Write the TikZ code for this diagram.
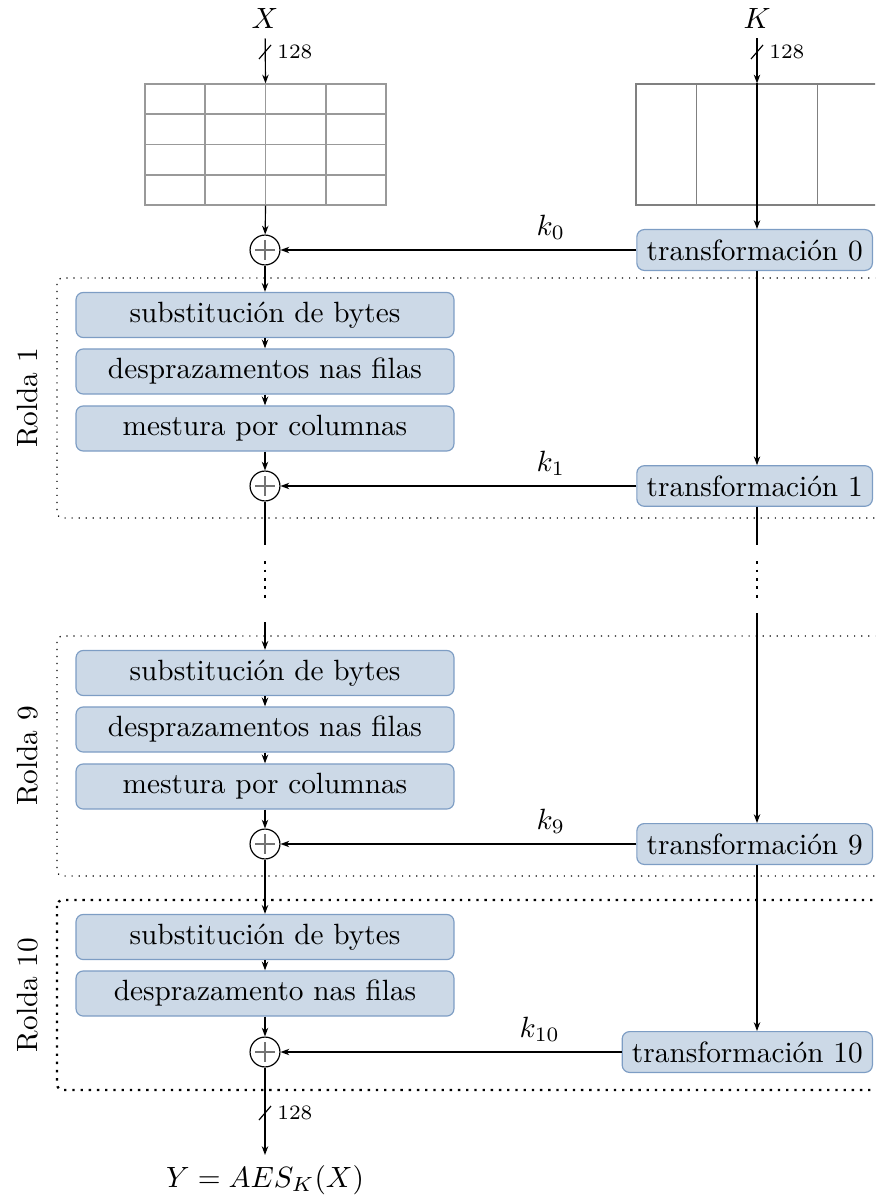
\documentclass[tikz,border=0pt]{standalone}
\usepackage{fontspec}
\usetikzlibrary{arrows.meta,calc}
\definecolor{boxfill}{RGB}{204,217,231}
\definecolor{boxdraw}{RGB}{125,157,196}
\begin{document}
\begin{tikzpicture}[x=0.3413pt,y=-0.3413pt,
  arr/.style={-{Stealth[length=3pt,width=2.2pt]}},
  stepbox/.style={draw=boxdraw,fill=boxfill,rounded corners=2.5pt,minimum width=129pt,minimum height=15.4pt,inner sep=0pt},
  keybox/.style={draw=boxdraw,fill=boxfill,rounded corners=2.5pt,minimum height=13pt,anchor=east},
  xorn/.style={draw,circle,minimum size=10.2pt,inner sep=0pt,
    path picture={\draw[black!55] ([yshift=-1.7pt]path picture bounding box.north) -- ([yshift=1.7pt]path picture bounding box.south);
                  \draw[black!55] ([xshift=1.7pt]path picture bounding box.west) -- ([xshift=-1.7pt]path picture bounding box.east);}},
  roundbox/.style={dotted,rounded corners=2pt},
  gridc/.style={draw=black!40},
  keyc/.style={draw=black!50},
  bits/.style={font=\scriptsize,anchor=west},
  dotsline/.style={line width=0.9pt,dash pattern=on 0.9pt off 2pt},
  rolda/.style={rotate=90}
]
\useasboundingbox (0,0) rectangle (875,1201);
\clip (0,0) rectangle (875,1201);

% round frames
\draw[roundbox] (57,278) rectangle (905,518);
\draw[roundbox] (57,636) rectangle (905,876);
\draw[roundbox,thick] (57,900) rectangle (905,1090);
\node[rolda] (r1) at (28,398) {Rolda 1};
\node[rolda] (r9) at (28,756) {Rolda 9};
\node[rolda] (r10) at (28,995) {Rolda 10};

% inputs
\node (X) at (265,18) {$X$};
\node (K) at (757,18) {$K$};

% state matrix
\node[gridc,minimum width=82.25pt,minimum height=41.3pt,inner sep=0pt] (st) at (265.5,144.5) {};
\foreach \i in {1,2,3} {
  \draw[gridc] ($(st.north west)!\i/4!(st.north east)$) -- ($(st.south west)!\i/4!(st.south east)$);
  \draw[gridc] ($(st.north west)!\i/4!(st.south west)$) -- ($(st.north east)!\i/4!(st.south east)$);
}
% key matrix
\node[keyc,minimum width=82.6pt,minimum height=41.3pt,inner sep=0pt] (km) at (757,144.5) {};
\foreach \i in {1,2,3} {
  \draw[keyc] ($(km.north west)!\i/4!(km.north east)$) -- ($(km.south west)!\i/4!(km.south east)$);
}

% round 0
\node[xorn] (x0) at (265,250) {};
\node[keybox] (t0) at (873,250) {transformación 0};

% round 1
\node[stepbox] (sb1) at (265,315) {substitución de bytes};
\node[stepbox] (dp1) at (265,371.5) {desprazamentos nas filas};
\node[stepbox] (mc1) at (265,428.5) {mestura por columnas};
\node[xorn] (x1) at (265,486) {};
\node[keybox] (t1) at (873,486) {transformación 1};

% round 9
\node[stepbox] (sb9) at (265,673) {substitución de bytes};
\node[stepbox] (dp9) at (265,729.5) {desprazamentos nas filas};
\node[stepbox] (mc9) at (265,786.5) {mestura por columnas};
\node[xorn] (x9) at (265,844) {};
\node[keybox] (t9) at (873,844) {transformación 9};

% round 10
\node[stepbox] (sb10) at (265,937) {substitución de bytes};
\node[stepbox] (dp10) at (265,993.5) {desprazamento nas filas};
\node[xorn] (x10) at (265,1052) {};
\node[keybox] (t10) at (873,1052) {transformación 10};

\node (Y) at (265,1180) {$Y = AES_K(X)$};

% bus slashes
\coordinate (sx) at (265,52);
\coordinate (sk) at (757,52);
\coordinate (sy) at (265,1113);

% left column
\draw[arr] (X) -- (st.north);
\draw[arr] (st.south) -- (x0);
\draw[arr] (x0) -- (sb1);
\draw[arr] (sb1) -- (dp1);
\draw[arr] (dp1) -- (mc1);
\draw[arr] (mc1) -- (x1);
\coordinate (la) at (265,545);
\coordinate (lb) at (265,561);
\coordinate (lc) at (265,598);
\coordinate (ld) at (265,622);
\draw (x1) -- (la);
\draw[dotsline] (lb) -- (lc);
\draw[arr] (ld) -- (sb9);
\draw[arr] (sb9) -- (dp9);
\draw[arr] (dp9) -- (mc9);
\draw[arr] (mc9) -- (x9);
\draw[arr] (x9) -- (sb10);
\draw[arr] (sb10) -- (dp10);
\draw[arr] (dp10) -- (x10);
\draw[arr] (x10) -- (Y);

% right column
\draw[arr] (K) -- (km.north);
\draw[arr] (km.north) -- (t0.north -| km.north);
\coordinate (ra) at (757,545);
\coordinate (rb) at (757,561);
\coordinate (rc) at (757,598);
\coordinate (rd) at (757,613);
\draw[arr] (t0.south -| km.north) -- (t1.north -| km.north);
\draw (t1.south -| km.north) -- (ra);
\draw[dotsline] (rb) -- (rc);
\draw[arr] (rd) -- (t9.north -| km.north);
\draw[arr] (t9.south -| km.north) -- (t10.north -| km.north);

% key additions
\draw[arr] (t0) -- node[above,pos=0.24] (k0) {$k_0$} (x0);
\draw[arr] (t1) -- node[above,pos=0.24] (k1) {$k_1$} (x1);
\draw[arr] (t9) -- node[above,pos=0.24] (k9) {$k_9$} (x9);
\draw[arr] (t10) -- node[above,pos=0.24] (k10) {$k_{10}$} (x10);

% slashes
\draw (sx) ++(-6,7) -- ++(12,-14);
\draw (sk) ++(-6,7) -- ++(12,-14);
\draw (sy) ++(-6,7) -- ++(12,-14);
\node[bits] (bx) at (267,52) {128};
\node[bits] (bk) at (759,52) {128};
\node[bits] (by) at (267,1113) {128};
\end{tikzpicture}
\end{document}
